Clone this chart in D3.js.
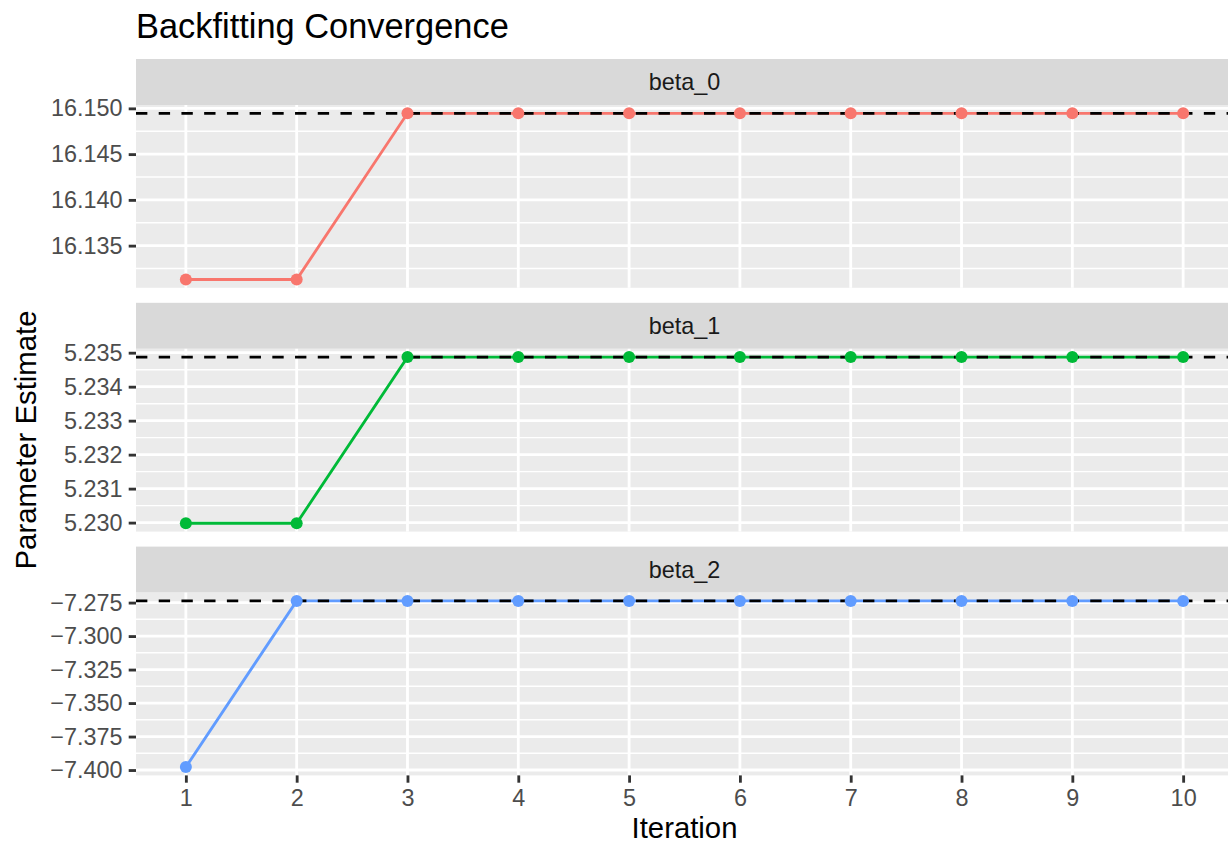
<!DOCTYPE html>
<html>
<head>
<meta charset="utf-8">
<script src="https://cdn.jsdelivr.net/npm/d3@7"></script>
<style>
  html, body { margin: 0; padding: 0; background: #fff; }
  svg { display: block; font-family: "Liberation Sans", Arial, Helvetica, sans-serif; }
</style>
</head>
<body>
<svg id="chart" width="1228" height="842"></svg>
<script>
// Parameter estimates per backfitting iteration
const iterations = [1, 2, 3, 4, 5, 6, 7, 8, 9, 10];
const parameters = ["beta_0", "beta_1", "beta_2"];
const beta0 = [16.1313, 16.1313, 16.14946, 16.14946, 16.14946, 16.14946, 16.14946, 16.14946, 16.14946, 16.14946];
const beta1 = [5.22998, 5.22998, 5.23487, 5.23487, 5.23487, 5.23487, 5.23487, 5.23487, 5.23487, 5.23487];
const beta2 = [-7.3978, -7.27375, -7.27375, -7.27375, -7.27375, -7.27375, -7.27375, -7.27375, -7.27375, -7.27375];
// Reference (converged) value drawn as a dashed line
const finalValues = [16.14946, 5.23487, -7.27375];
// Tick labels per facet
const ticks0 = [16.135, 16.140, 16.145, 16.150];
const ticks1 = [5.230, 5.231, 5.232, 5.233, 5.234, 5.235];
const ticks2 = [-7.400, -7.375, -7.350, -7.325, -7.300, -7.275];
const colors = ["#F8766D", "#00BA38", "#619CFF"];

const series = [beta0, beta1, beta2];
const tickSets = [ticks0, ticks1, ticks2];

const svg = d3.select("#chart");
const W = 1228, H = 842;
svg.append("rect").attr("width", W).attr("height", H).attr("fill", "#fff");

const panelLeft = 136, panelRight = 1233;
const top0 = 59, stripH = 46, gap = 15, panelH = 182.8;
const tickFont = 23.4, lw = 2.84;

const x = d3.scaleLinear()
  .domain([1 - 0.45, 10 + 0.45])
  .range([panelLeft, panelRight]);

// Title
svg.append("text")
  .attr("x", panelLeft).attr("y", 37.5)
  .attr("font-size", 34.4).attr("fill", "#000")
  .text("Backfitting Convergence");

parameters.forEach((name, i) => {
  const stripTop = top0 + i * (stripH + panelH + gap);
  const pTop = stripTop + stripH;
  const pBot = pTop + panelH;
  const vals = series[i];
  const all = vals.concat([finalValues[i]]);
  const lo = d3.min(all), hi = d3.max(all), pad = (hi - lo) * 0.05;
  const y = d3.scaleLinear().domain([lo - pad, hi + pad]).range([pBot, pTop]);

  const g = svg.append("g");

  // strip
  g.append("rect").attr("x", panelLeft).attr("y", stripTop)
    .attr("width", panelRight - panelLeft).attr("height", stripH).attr("fill", "#D9D9D9");
  g.append("text").attr("x", (panelLeft + panelRight) / 2).attr("y", stripTop + stripH / 2)
    .attr("dy", "0.35em").attr("text-anchor", "middle")
    .attr("font-size", tickFont).attr("fill", "#1A1A1A").text(name);

  // panel background
  g.append("rect").attr("x", panelLeft).attr("y", pTop)
    .attr("width", panelRight - panelLeft).attr("height", panelH).attr("fill", "#EBEBEB");

  // minor y grid at midpoints between breaks
  const tk = tickSets[i];
  const step = tk[1] - tk[0];
  const minors = [];
  for (let k = -1; k < tk.length; k++) {
    const m = tk[0] + step * (k + 0.5);
    const [d0, d1] = y.domain();
    if (m >= d0 && m <= d1) minors.push(m);
  }
  g.selectAll(".minor").data(minors).join("line")
    .attr("x1", panelLeft).attr("x2", panelRight)
    .attr("y1", d => y(d)).attr("y2", d => y(d))
    .attr("stroke", "#fff").attr("stroke-width", lw / 2);

  // major grid
  g.selectAll(".majy").data(tk).join("line")
    .attr("x1", panelLeft).attr("x2", panelRight)
    .attr("y1", d => y(d)).attr("y2", d => y(d))
    .attr("stroke", "#fff").attr("stroke-width", lw);
  g.selectAll(".majx").data(iterations).join("line")
    .attr("x1", d => x(d)).attr("x2", d => x(d))
    .attr("y1", pTop).attr("y2", pBot)
    .attr("stroke", "#fff").attr("stroke-width", lw);

  const pts = iterations.map((it, j) => ({ it, v: vals[j] }));

  // trace line
  g.append("path").datum(pts)
    .attr("d", d3.line().x(d => x(d.it)).y(d => y(d.v)))
    .attr("fill", "none").attr("stroke", colors[i]).attr("stroke-width", lw);

  // converged value
  g.append("line")
    .attr("x1", panelLeft).attr("x2", panelRight)
    .attr("y1", y(finalValues[i])).attr("y2", y(finalValues[i]))
    .attr("stroke", "#000").attr("stroke-width", lw)
    .attr("stroke-dasharray", `${4 * lw} ${4 * lw}`);

  // points
  g.selectAll(".pt").data(pts).join("circle")
    .attr("cx", d => x(d.it)).attr("cy", d => y(d.v)).attr("r", 6)
    .attr("fill", colors[i]);

  // y axis
  const ay = svg.append("g").attr("transform", `translate(${panelLeft},0)`)
    .call(d3.axisLeft(y).tickValues(tk).tickFormat(d3.format(".3f"))
      .tickSize(7.3).tickPadding(6.2));
  ay.select(".domain").remove();
  ay.selectAll(".tick line").attr("stroke", "#333333").attr("stroke-width", lw);
  ay.selectAll(".tick text").attr("fill", "#4D4D4D").attr("font-size", tickFont)
    .attr("font-family", "'Liberation Sans', Arial, sans-serif");

  if (i === parameters.length - 1) {
    const ax = svg.append("g").attr("transform", `translate(0,${pBot})`)
      .call(d3.axisBottom(x).tickValues(iterations).tickFormat(d3.format("d"))
        .tickSize(7.3).tickPadding(6.2));
    ax.select(".domain").remove();
    ax.selectAll(".tick line").attr("stroke", "#333333").attr("stroke-width", lw);
    ax.selectAll(".tick text").attr("fill", "#4D4D4D").attr("font-size", tickFont)
      .attr("font-family", "'Liberation Sans', Arial, sans-serif");
  }
});

// axis titles
svg.append("text")
  .attr("x", (panelLeft + panelRight) / 2).attr("y", 837.5)
  .attr("text-anchor", "middle").attr("font-size", 29.3).attr("fill", "#000")
  .text("Iteration");
svg.append("text")
  .attr("transform", `translate(36,440) rotate(-90)`)
  .attr("text-anchor", "middle").attr("font-size", 29.3).attr("fill", "#000")
  .text("Parameter Estimate");
</script>
</body>
</html>
